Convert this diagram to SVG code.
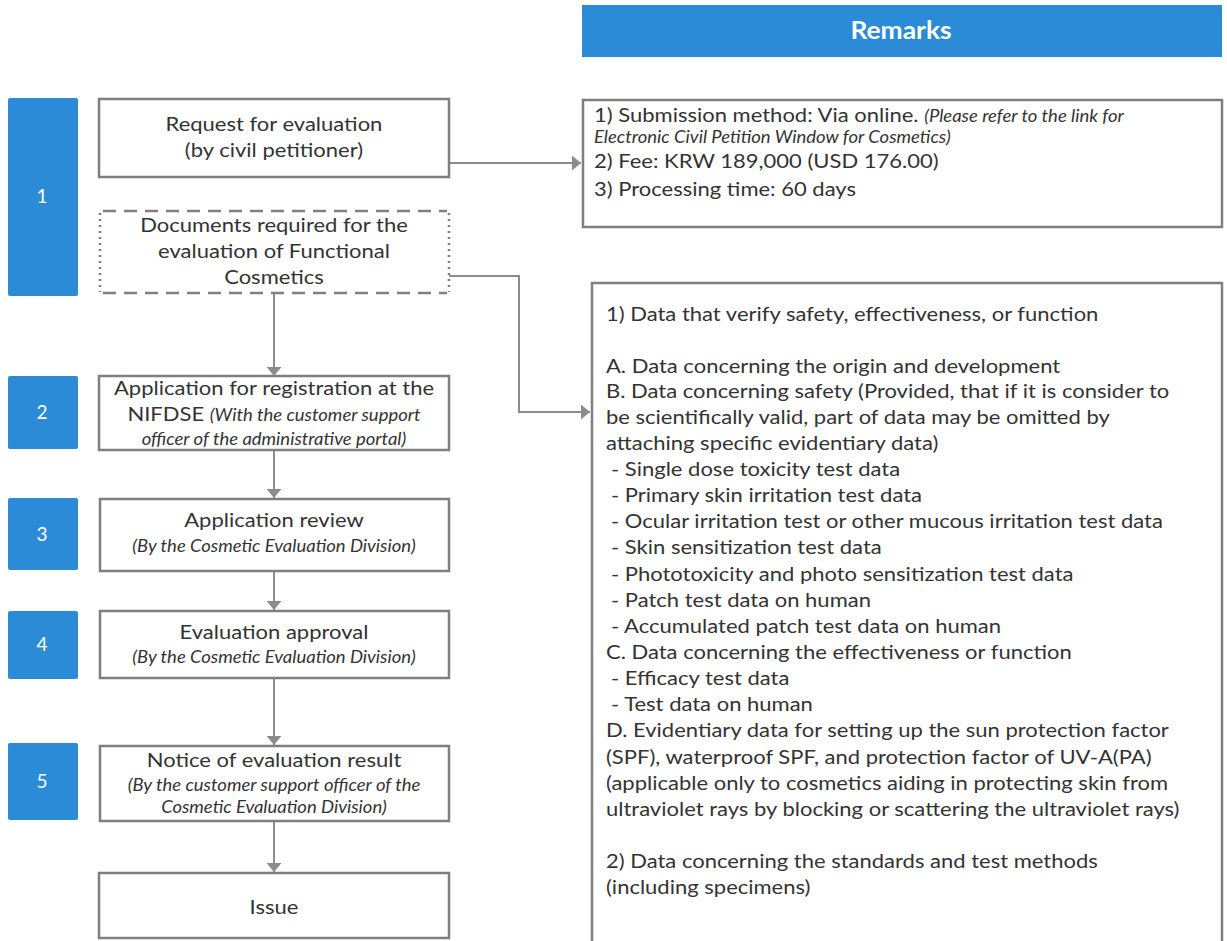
<svg xmlns="http://www.w3.org/2000/svg" width="1227" height="941" viewBox="0 0 1227 941">
<style>
.step{fill:#2B8BD6;}
.num{font-family:Lato,"Open Sans",sans-serif;font-size:19px;fill:#fff;text-anchor:middle;}
.box{fill:#fff;stroke:#7f7f7f;stroke-width:2.5;}
.t{font-family:Lato,"Open Sans",sans-serif;font-size:20px;fill:#333;}
.c{text-anchor:middle;}
.i{font-family:Lato,"Open Sans",sans-serif;font-style:italic;font-size:16.8px;fill:#333;}
.r{font-family:Lato,"Open Sans",sans-serif;font-size:20px;fill:#333;}
.conn{fill:none;stroke:#8c8c8c;stroke-width:2;}
.dash{stroke:#808080;stroke-width:2.5;stroke-dasharray:13 8;}
.dot{stroke:#808080;stroke-width:2.5;stroke-dasharray:2 4;}
</style>
<defs>
<marker id="arr" markerWidth="9" markerHeight="15" refX="9" refY="7.5" orient="auto" markerUnits="userSpaceOnUse" viewBox="0 0 9 15">
<path d="M0,0 L9,7.5 L0,15 Z" fill="#8c8c8c"/>
</marker>
</defs>
<rect width="1227" height="941" fill="#fff"/>

<g id="remarks-header">
<rect x="582" y="5" width="640" height="52" fill="#2B8BD6"/>
<text transform="scale(1.1,1)" x="819.1" y="39" font-family="Lato,'Open Sans',sans-serif" font-size="24" font-weight="bold" fill="#fff" text-anchor="middle">Remarks</text>
</g>

<g id="step1"><rect class="step" x="8" y="98" width="70" height="198" rx="2"/><text class="num" x="42" y="203">1</text></g>
<g id="step2"><rect class="step" x="8" y="376" width="70" height="73" rx="2"/><text class="num" x="42" y="419">2</text></g>
<g id="step3"><rect class="step" x="8" y="498" width="70" height="72" rx="2"/><text class="num" x="42" y="541">3</text></g>
<g id="step4"><rect class="step" x="8" y="611" width="70" height="68" rx="2"/><text class="num" x="42" y="651">4</text></g>
<g id="step5"><rect class="step" x="8" y="743" width="70" height="77" rx="2"/><text class="num" x="42" y="788">5</text></g>

<g id="connectors">
<line class="conn" x1="449" y1="163" x2="581" y2="163" marker-end="url(#arr)"/>
<polyline class="conn" points="449,276 519,276 519,412 590,412" marker-end="url(#arr)"/>
<line class="conn" x1="274" y1="294" x2="274" y2="376" marker-end="url(#arr)"/>
<line class="conn" x1="274" y1="450" x2="274" y2="498" marker-end="url(#arr)"/>
<line class="conn" x1="274" y1="571" x2="274" y2="610" marker-end="url(#arr)"/>
<line class="conn" x1="274" y1="678" x2="274" y2="745" marker-end="url(#arr)"/>
<line class="conn" x1="274" y1="821" x2="274" y2="872" marker-end="url(#arr)"/>
</g>

<g id="request">
<rect class="box" x="99" y="99" width="350" height="78"/>
<g transform="scale(1.1,1)">
<text class="t c" x="249.1" y="131">Request for evaluation</text>
<text class="t c" x="249.1" y="157">(by civil petitioner)</text>
</g>
</g>

<g id="documents">
<rect x="100" y="211" width="349" height="82" fill="#fff"/>
<line class="dash" x1="103" y1="211" x2="447" y2="211"/>
<line class="dash" x1="103" y1="293" x2="447" y2="293"/>
<line class="dot" x1="100" y1="213" x2="100" y2="292"/>
<line class="dot" x1="449" y1="213" x2="449" y2="292"/>
<g transform="scale(1.1,1)">
<text class="t c" x="249.1" y="232">Documents required for the</text>
<text class="t c" x="249.1" y="258">evaluation of Functional</text>
<text class="t c" x="249.1" y="284">Cosmetics</text>
</g>
</g>

<g id="application">
<rect class="box" x="99" y="376" width="350" height="74"/>
<g transform="scale(1.1,1)">
<text class="t c" x="249.1" y="395">Application for registration at the</text>
<text class="c" x="249.1" y="421"><tspan class="t">NIFDSE </tspan><tspan class="i">(With the customer support</tspan></text>
<text class="i c" x="249.1" y="445">officer of the administrative portal)</text>
</g>
</g>

<g id="review">
<rect class="box" x="100" y="499" width="349" height="72"/>
<g transform="scale(1.1,1)">
<text class="t c" x="249.1" y="527">Application review</text>
<text class="i c" x="249.1" y="552">(By the Cosmetic Evaluation Division)</text>
</g>
</g>

<g id="approval">
<rect class="box" x="100" y="611" width="349" height="67"/>
<g transform="scale(1.1,1)">
<text class="t c" x="249.1" y="639">Evaluation approval</text>
<text class="i c" x="249.1" y="663">(By the Cosmetic Evaluation Division)</text>
</g>
</g>

<g id="notice">
<rect class="box" x="100" y="746" width="349" height="75"/>
<g transform="scale(1.1,1)">
<text class="t c" x="249.1" y="767">Notice of evaluation result</text>
<text class="i c" x="249.1" y="791">(By the customer support officer of the</text>
<text class="i c" x="249.1" y="813">Cosmetic Evaluation Division)</text>
</g>
</g>

<g id="issue">
<rect class="box" x="99" y="873" width="350" height="65"/>
<g transform="scale(1.1,1)">
<text class="t c" x="249.1" y="914">Issue</text>
</g>
</g>

<g id="remarks1">
<rect class="box" x="583" y="100" width="639" height="127"/>
<g transform="scale(1.1,1)">
<text x="540" y="122"><tspan class="r">1) Submission method: Via online. </tspan><tspan class="i" font-size="15">(Please refer to the link for</tspan></text>
<text class="i" font-size="15" x="540" y="143">Electronic Civil Petition Window for Cosmetics)</text>
<text class="r" x="540" y="168">2) Fee: KRW 189,000 (USD 176.00)</text>
<text class="r" x="540" y="196">3) Processing time: 60 days</text>
</g>
</g>

<g id="remarks2">
<rect class="box" x="592" y="283" width="630" height="670"/>
<g class="r" transform="scale(1.1,1)">
<text x="550.9" y="321">1) Data that verify safety, effectiveness, or function</text>
<text x="550.9" y="373">A. Data concerning the origin and development</text>
<text x="550.9" y="398">B. Data concerning safety (Provided, that if it is consider to</text>
<text x="550.9" y="424">be scientifically valid, part of data may be omitted by</text>
<text x="550.9" y="450">attaching specific evidentiary data)</text>
<text x="555.5" y="476">- Single dose toxicity test data</text>
<text x="555.5" y="502">- Primary skin irritation test data</text>
<text x="555.5" y="528">- Ocular irritation test or other mucous irritation test data</text>
<text x="555.5" y="554">- Skin sensitization test data</text>
<text x="555.5" y="581">- Phototoxicity and photo sensitization test data</text>
<text x="555.5" y="607">- Patch test data on human</text>
<text x="555.5" y="633">- Accumulated patch test data on human</text>
<text x="550.9" y="659">C. Data concerning the effectiveness or function</text>
<text x="555.5" y="685">- Efficacy test data</text>
<text x="555.5" y="711">- Test data on human</text>
<text x="550.9" y="737">D. Evidentiary data for setting up the sun protection factor</text>
<text x="550.9" y="764">(SPF), waterproof SPF, and protection factor of UV-A(PA)</text>
<text x="550.9" y="790">(applicable only to cosmetics aiding in protecting skin from</text>
<text x="550.9" y="816">ultraviolet rays by blocking or scattering the ultraviolet rays)</text>
<text x="550.9" y="868">2) Data concerning the standards and test methods</text>
<text x="550.9" y="894">(including specimens)</text>
</g>
</g>
</svg>
